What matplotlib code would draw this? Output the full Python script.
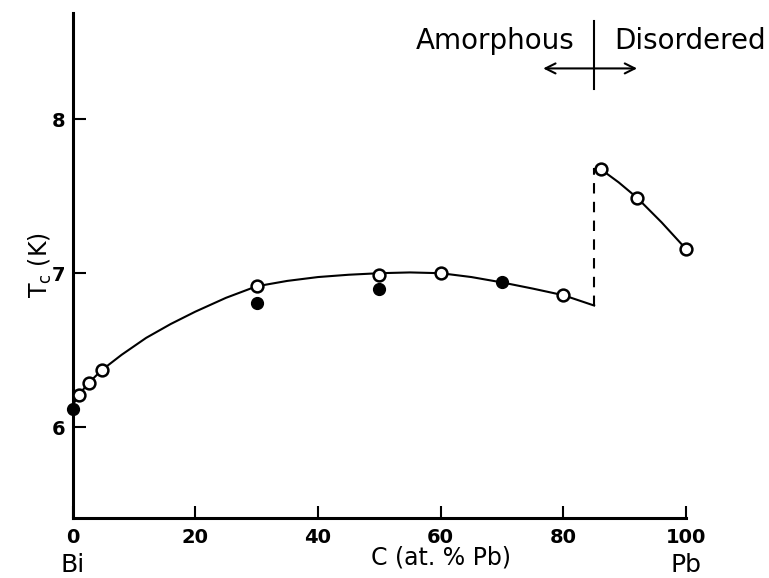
import matplotlib
matplotlib.use("Agg")
import matplotlib.pyplot as plt

# open circles
open_x = [1.0, 2.7, 4.75, 30, 50, 60, 80, 86.1, 92, 100]
open_y = [6.21, 6.29, 6.37, 6.917, 6.99, 7.0, 6.857, 7.675, 7.49, 7.156]
# filled circles
fill_x = [0, 30, 50, 70]
fill_y = [6.117, 6.807, 6.90, 6.94]

# curve (amorphous branch)
curve_x = [0, 1, 2.7, 4.75, 8, 12, 16, 20, 25, 30, 35, 40, 45, 50, 55, 60, 65, 70, 75, 80, 85]
curve_y = [6.14, 6.21, 6.29, 6.37, 6.47, 6.58, 6.67, 6.75, 6.84, 6.915, 6.95, 6.975, 6.99, 7.0, 7.005,
           7.0, 6.975, 6.94, 6.9, 6.857, 6.79]
# disordered branch
curve2_x = [86.1, 89, 92, 96, 100]
curve2_y = [7.675, 7.59, 7.49, 7.33, 7.156]
# vertical dashed jump
jump_x = 85
jump_y = [6.79, 7.675]

xticks = [0, 20, 40, 60, 80, 100]
yticks = [6, 7, 8]

fig = plt.figure(figsize=(7.69, 5.78), dpi=100)
ax = fig.add_axes([0.0943, 0.1038, 0.798, 0.8737])
ax.set_xlim(0, 100)
ax.set_ylim(5.41, 8.69)

for s in ["top", "right"]:
    ax.spines[s].set_visible(False)
for s in ["left", "bottom"]:
    ax.spines[s].set_linewidth(2.2)

ax.plot(curve_x, curve_y, color="black", lw=1.5, zorder=2)
ax.plot(curve2_x, curve2_y, color="black", lw=1.5, zorder=2)
ax.plot([jump_x, jump_x], jump_y, color="black", lw=1.5, ls=(0, (5, 4)), zorder=2)
ax.plot([jump_x, curve2_x[0]], [jump_y[1], jump_y[1]], color="black", lw=1.5, zorder=2)

ax.plot(open_x, open_y, ls="none", marker="o", ms=8.5, mfc="white", mec="black", mew=1.8,
        zorder=4, clip_on=False)
ax.plot(fill_x, fill_y, ls="none", marker="o", ms=8.5, mfc="black", mec="black", mew=1.0,
        zorder=4, clip_on=False)

ax.set_xticks(xticks)
ax.set_xticklabels([str(t) for t in xticks])
ax.set_yticks(yticks)
ax.set_yticklabels([str(t) for t in yticks])
ax.tick_params(direction="in", length=9, width=1.5, labelsize=14, colors="black")
ax.tick_params(axis="x", pad=7)
ax.tick_params(axis="y", pad=5)
for lab in ax.get_xticklabels() + ax.get_yticklabels():
    lab.set_fontweight("bold")

# axis labels
trans = ax.get_xaxis_transform()
ax.text(60, -0.079, "C (at. % Pb)", transform=trans, ha="center", va="center", fontsize=17)
ax.text(0, -0.093, "Bi", transform=trans, ha="center", va="center", fontsize=18)
ax.text(100, -0.093, "Pb", transform=trans, ha="center", va="center", fontsize=18)
ax.text(-0.053, 0.5, "T$_\\mathregular{c}$ (K)", transform=ax.transAxes, rotation=90,
        ha="center", va="center", fontsize=17)

# Amorphous / Disordered annotation
ax.plot([jump_x, jump_x], [8.195, 8.636], color="black", lw=1.5, clip_on=False)
ax.annotate("", xy=(76.7, 8.33), xytext=(92.0, 8.33),
            arrowprops=dict(arrowstyle="<->", lw=1.5, color="black", mutation_scale=18,
                            shrinkA=0, shrinkB=0), annotation_clip=False)
ax.text(81.8, 8.51, "Amorphous", ha="right", va="center", fontsize=20)
ax.text(88.2, 8.51, "Disordered", ha="left", va="center", fontsize=20)

fig.savefig("out.png", dpi=100)
